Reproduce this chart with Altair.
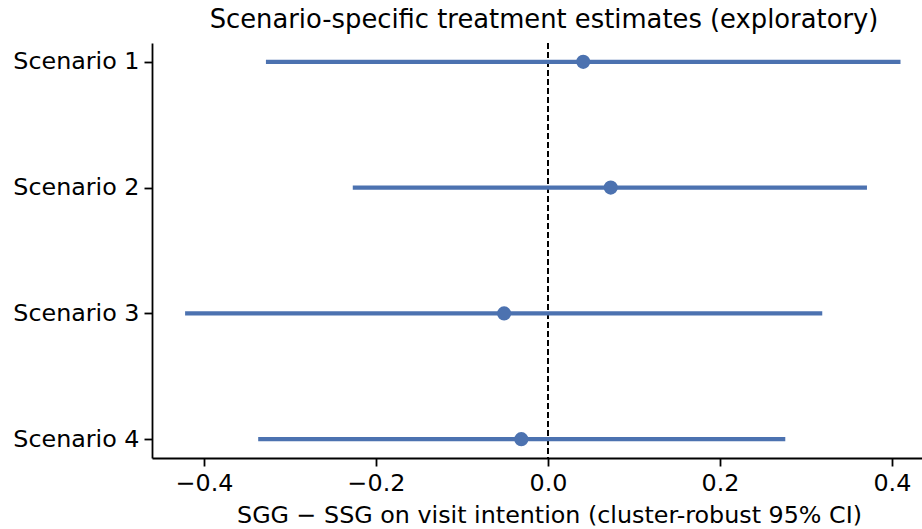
import altair as alt
import pandas as pd

scenarios = ["Scenario 1", "Scenario 2", "Scenario 3", "Scenario 4"]
estimates = [0.041, 0.073, -0.051, -0.031]
ci_low = [-0.328, -0.227, -0.422, -0.337]
ci_high = [0.410, 0.371, 0.319, 0.276]
x_ticks = [-0.4, -0.2, 0.0, 0.2, 0.4]

df = pd.DataFrame({"scenario": scenarios, "est": estimates, "lo": ci_low, "hi": ci_high})

FONT = "DejaVu Sans"
BLUE = "#4c72b0"

xscale = alt.Scale(domain=[-0.4605, 0.435], nice=False, zero=False)
yscale = alt.Scale(type="point", padding=0.15)

base = alt.Chart(df)

ci = base.mark_rule(color=BLUE, strokeWidth=4.2).encode(
    x=alt.X("lo:Q", scale=xscale,
            axis=alt.Axis(values=x_ticks, format=".1f", titleX=397, titleAnchor="middle",
                          title="SGG \u2212 SSG on visit intention (cluster-robust 95% CI)")),
    x2="hi:Q",
    y=alt.Y("scenario:N", scale=yscale, sort=scenarios, axis=alt.Axis(title=None)),
)

zero = alt.Chart(df).mark_rule(color="black", strokeWidth=1.4, strokeDash=[6, 3]).encode(
    x=alt.datum(0.0)
)

pts = base.mark_circle(color=BLUE, size=200, opacity=1).encode(
    x=alt.X("est:Q", scale=xscale),
    y=alt.Y("scenario:N", scale=yscale, sort=scenarios),
)

chart = (
    alt.layer(zero, ci, pts)
    .properties(
        width=770,
        height=415,
        title=alt.Title("Scenario-specific treatment estimates (exploratory)",
                        font=FONT, fontSize=25.8, fontWeight="normal", color="black",
                        anchor="middle", offset=9, dx=7),
        autosize=alt.AutoSizeParams(type="none"),
        padding={"left": 152, "top": 43, "right": 0, "bottom": 71},
    )
    .configure_view(stroke=None)
    .configure_axis(
        labelFont=FONT, titleFont=FONT, labelFontSize=23.8, titleFontSize=23.8,
        titleFontWeight="normal", labelColor="black", titleColor="black",
        domainColor="black", tickColor="black", domainWidth=1.8, tickWidth=1.8,
        tickSize=8, grid=False,
    )
    .configure_axisX(labelPadding=5, titlePadding=9)
    .configure_axisY(labelPadding=5)
)

chart.save("out.html", embed_options={"renderer": "svg", "actions": False})
